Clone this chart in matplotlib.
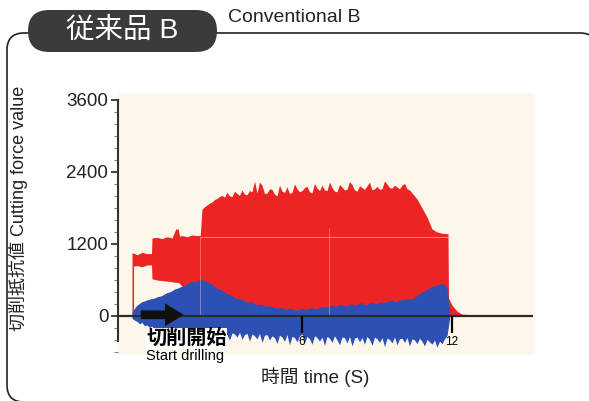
import matplotlib
matplotlib.use('Agg')
import matplotlib.pyplot as plt
import numpy as np
from matplotlib.patches import FancyBboxPatch, PathPatch
from matplotlib.path import Path
from matplotlib.transforms import IdentityTransform
from matplotlib.ticker import MultipleLocator

plt.rcParams['font.family'] = ['Liberation Sans', 'Noto Sans CJK JP', 'DejaVu Sans']

# cutting force envelopes (time in s, force value)
# red: start-up steps, steady drilling (0.1 s grid), run-out
red_time_start = [-0.80, -0.80, -0.74, -0.74, -0.6, -0.4, -0.2, -0.02, 0.0, 0.2, 0.4, 0.6, 0.8,
                  0.95, 1.05, 1.1, 1.2, 1.4, 1.6, 1.8, 1.93]
red_top_start = [0, 1050, 1050, 1050, 1020, 1060, 1040, 1040, 1300, 1310, 1290, 1320, 1300,
                 1450, 1450, 1330, 1340, 1320, 1350, 1340, 1340]
red_bottom_start = [0, 0, 0, 830, 840, 820, 850, 850, 620, 600, 590, 580, 570,
                    560, 560, 540, 500, 0, 0, 0, 0]
red_time_mid = np.round(np.arange(2.0, 10.45, 0.1), 1)
red_top_mid = [1780, 1820, 1850, 1880, 1900, 1940, 1960, 1990, 2010, 1980,
               2060, 2000, 1990, 2080, 2040, 2010, 2100, 2030, 2020, 2090,
               2070, 2250, 2050, 2230, 2180, 2040, 2050, 2120, 2110, 2030,
               2000, 2180, 2080, 2060, 2150, 2040, 2060, 2200, 2120, 2070,
               2090, 2140, 2160, 2070, 2050, 2210, 2130, 2090, 2180, 2100,
               2090, 2230, 2140, 2080, 2070, 2190, 2150, 2100, 2110, 2240,
               2190, 2100, 2080, 2170, 2140, 2110, 2170, 2230, 2100, 2120,
               2160, 2110, 2120, 2250, 2200, 2140, 2130, 2180, 2150, 2120,
               2180, 2210, 2120, 2100, 2050]
red_time_end = [10.6, 10.8, 11.0, 11.2, 11.4, 11.6, 11.84, 11.86, 12.0, 12.2, 12.4, 13.6]
red_top_end = [1950, 1800, 1650, 1450, 1400, 1380, 1370, 300, 180, 80, 30, 0]

red_time = list(red_time_start) + list(red_time_mid) + list(red_time_end)
red_top = red_top_start + red_top_mid + red_top_end
red_bottom = red_bottom_start + [0] * (len(red_top_mid) + len(red_top_end))

# blue: 0.1 s grid from -0.8 s, then drops out at 11.92 s
blue_time = list(np.round(np.arange(-0.8, 11.85, 0.1), 1)) + [11.92]
blue_top = [60, 130, 180, 210, 240, 250, 270, 280, 290, 300,
            320, 330, 340, 370, 390, 400, 420, 450, 460, 480,
            500, 510, 530, 560, 580, 570, 590, 600, 610, 590,
            570, 550, 530, 490, 460, 450, 430, 400, 370, 360,
            340, 310, 290, 290, 280, 250, 230, 240, 230, 200,
            190, 200, 190, 170, 160, 170, 160, 140, 130, 150,
            140, 120, 110, 130, 120, 100, 100, 120, 130, 110,
            110, 130, 140, 120, 130, 150, 160, 140, 150, 170,
            180, 160, 170, 190, 190, 170, 170, 200, 200, 180,
            190, 220, 220, 190, 190, 220, 230, 210, 210, 240,
            220, 230, 240, 260, 260, 240, 240, 270, 270, 280,
            290, 290, 280, 310, 340, 370, 400, 420, 440, 470,
            500, 500, 510, 530, 540, 520, 470, 0]
blue_bottom = [-40, -70, -90, -130, -110, -160, -150, -190, -170, -230,
               -200, -250, -210, -280, -230, -220, -300, -250, -240, -320,
               -260, -290, -340, -250, -270, -330, -280, -260, -350, -290,
               -270, -380, -280, -300, -330, -260, -370, -290, -310, -400,
               -280, -300, -350, -270, -390, -310, -290, -420, -300, -330,
               -380, -290, -440, -320, -310, -400, -330, -360, -460, -320,
               -350, -420, -310, -480, -340, -360, -430, -330, -300, -450,
               -340, -380, -470, -330, -360, -420, -350, -490, -340, -370,
               -440, -330, -400, -480, -350, -360, -450, -340, -500, -370,
               -350, -430, -360, -470, -340, -390, -490, -350, -380, -440,
               -360, -510, -370, -390, -450, -350, -480, -380, -370, -440,
               -360, -500, -380, -400, -460, -370, -420, -500, -390, -430,
               -470, -400, -520, -420, -460, -380, -330, 0]

y_ticks = [0, 1200, 2400, 3600]
time_ticks = [6, 12]

fig = plt.figure(figsize=(5.89, 4.01), dpi=100)

# rounded outer frame (right and bottom sides run off the page) and the dark title tab
left, right, top, bottom, r = 7, 597, 368, -1, 17
frame = Path([(right, top - r), (right, top), (right - r, top), (left + r, top),
              (left, top), (left, top - r), (left, bottom + r), (left, bottom),
              (left + r, bottom), (right - r, bottom)],
             [Path.MOVETO, Path.CURVE3, Path.CURVE3, Path.LINETO,
              Path.CURVE3, Path.CURVE3, Path.LINETO, Path.CURVE3,
              Path.CURVE3, Path.LINETO])
fig.patches.append(PathPatch(frame, transform=IdentityTransform(), fill=False,
                             ec='#222222', lw=1.2))
fig.patches.append(FancyBboxPatch((28, 349), 189, 42, boxstyle='round,pad=0,rounding_size=21',
                                  transform=IdentityTransform(), fc='#3b3b3b', ec='none'))
fig.text(122 / 589, 1 - 31 / 401, '従来品 B', color='white', fontsize=20.5,
         ha='center', va='center')
fig.text(228 / 589, 1 - 18 / 401, 'Conventional B', color='#222222', fontsize=14,
         ha='left', va='center')

ax = fig.add_axes([118 / 589, 1 - 355 / 401, 417 / 589, 262 / 401])
ax.set_xlim(-1.36, 15.32)
ax.set_ylim(-650, 3716)
ax.set_facecolor('#fdf6ea')

ax.fill_between(red_time, red_bottom, red_top, color='#ec2424', lw=0, zorder=2)
ax.fill_between(blue_time, blue_bottom, blue_top, color='#2d50b4', lw=0, zorder=3)

# faint guide lines seen on the screen capture
ax.hlines(1317, 1.92, 11.9, color='#ffc0b0', lw=0.6, alpha=0.7, zorder=4)
ax.vlines([1.92, 7.08], 0, [1317, 1470], color='#ffc0b0', lw=0.6, alpha=0.5, zorder=4)

# zero line and time ticks
ax.hlines(0, -1.36, 15.24, color='#2b2b2b', lw=1.6, zorder=5)
ax.vlines(time_ticks, -280, 0, color='black', lw=1.6, zorder=5)
for t in time_ticks:
    ax.text(t, -430, str(t), fontsize=8.5, ha='center', va='center', zorder=6)

for s in ['top', 'right', 'bottom']:
    ax.spines[s].set_visible(False)
ax.spines['left'].set_bounds(-420, 3600)
ax.spines['left'].set_color('#333333')
ax.spines['left'].set_linewidth(1.5)
ax.set_xticks([])
ax.set_yticks(y_ticks)
ax.yaxis.set_minor_locator(MultipleLocator(200))
ax.tick_params(axis='y', which='major', length=5, width=1.2, pad=2, labelsize=13.5, colors='#222222')
ax.tick_params(axis='y', which='minor', length=3, width=0.8, color='#888888')

# start-of-drilling arrow and note
ax.annotate('', xy=(1.38, 20), xytext=(-0.56, 20),
            arrowprops=dict(arrowstyle='simple,head_width=1.1,head_length=0.9,tail_width=0.42',
                            mutation_scale=15, fc='#111111', ec='none'), zorder=7)
ax.text(-0.22, -375, '切削開始', fontsize=14.5, fontweight='bold', ha='left', va='center',
        bbox=dict(fc='white', ec='none', pad=0.3), zorder=7)
ax.text(-0.22, -660, 'Start drilling', fontsize=10.5, ha='left', va='center', zorder=7)

fig.text(18 / 589, 1 - 208 / 401, '切削抵抗値 Cutting force value', rotation=90,
         fontsize=13, ha='center', va='center', color='#222222')
fig.text(315 / 589, 1 - 377 / 401, '時間 time (S)', fontsize=13.5,
         ha='center', va='center', color='#222222')

fig.savefig('out.png', dpi=100)
